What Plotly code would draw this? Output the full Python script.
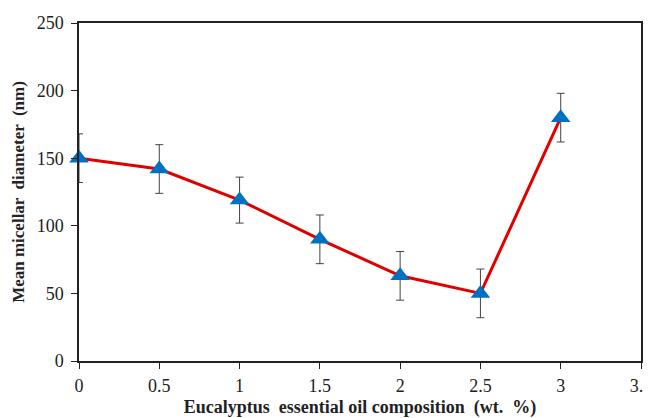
import plotly.graph_objects as go

composition = [0, 0.5, 1, 1.5, 2, 2.5, 3]
diameter = [150, 142, 119, 90, 63, 50, 180]
error = [18, 18, 17, 18, 18, 18, 18]

x_ticks = [0, 0.5, 1, 1.5, 2, 2.5, 3, 3.5]
y_ticks = [0, 50, 100, 150, 200, 250]

fig = go.Figure()
fig.add_trace(go.Scatter(
    x=composition, y=diameter,
    mode="lines+markers",
    cliponaxis=False,
    line=dict(color="#e00000", width=3),
    marker=dict(symbol="triangle-up", size=17, color="#0070c0"),
    error_y=dict(type="data", array=error, visible=True,
                 color="#444444", thickness=1, width=4),
))

font_family = "Liberation Serif, Times New Roman, serif"
fig.update_layout(
    width=651, height=410,
    margin=dict(l=71, r=18, t=15, b=57),
    paper_bgcolor="white", plot_bgcolor="white",
    showlegend=False,
    font=dict(family=font_family, size=18, color="#222222"),
    xaxis=dict(
        range=[0, 3.5], tickvals=x_ticks, ticktext=[str(v) for v in x_ticks],
        showgrid=False, zeroline=False, automargin=False,
        showline=True, linecolor="#222222", linewidth=1.5, mirror=True,
        ticks="outside", ticklen=6, tickcolor="#222222",
        tickfont=dict(size=18), ticklabelstandoff=2,
        ticklabeloverflow="allow",
        title=dict(text="<b>Eucalyptus  essential oil composition  (wt.  %)</b>",
                   font=dict(size=18, family=font_family), standoff=8),
    ),
    yaxis=dict(
        range=[0, 250], tickvals=y_ticks,
        showgrid=False, zeroline=False, automargin=False,
        showline=True, linecolor="#222222", linewidth=1.5, mirror=True,
        ticks="outside", ticklen=6, tickcolor="#222222",
        tickfont=dict(size=18), ticklabelstandoff=4,
        title=dict(text="<b>Mean micellar  diameter  (nm)</b>",
                   font=dict(size=17, family=font_family), standoff=8),
    ),
)

fig.write_html("out.html")
